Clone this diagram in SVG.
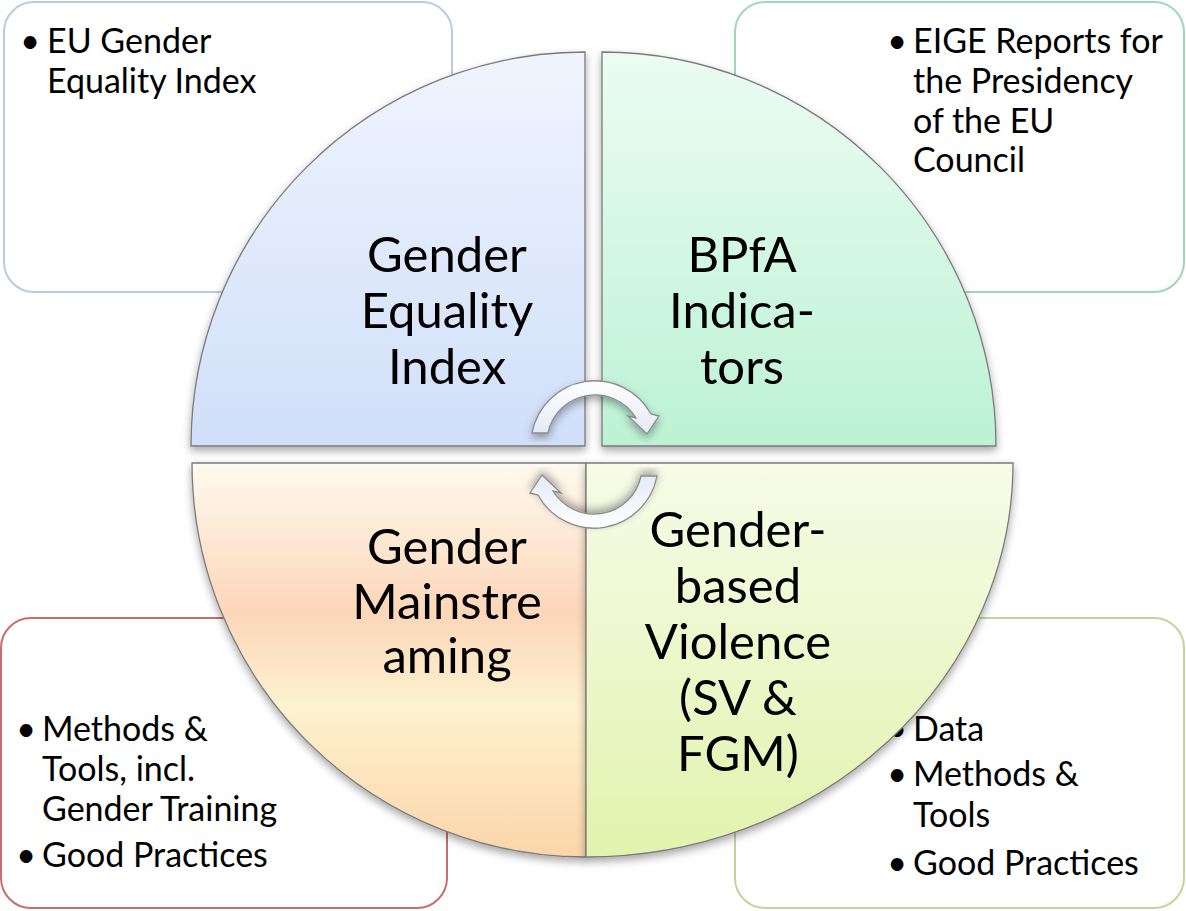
<svg xmlns="http://www.w3.org/2000/svg" width="1186" height="911" viewBox="0 0 1186 911">
<defs>
<style>
.box{fill:#ffffff;stroke-width:2}
.bt{font-family:Lato,"Open Sans","Liberation Sans",sans-serif;font-size:34px;fill:#000}
.ql{font-family:Lato,"Open Sans","Liberation Sans",sans-serif;font-size:49px;fill:#000;text-anchor:middle}
.quad{stroke:#7a7a7a;stroke-width:1.3}
.arr{fill:url(#gArr);stroke:#8a8a8a;stroke-width:1.3}
</style>
<linearGradient id="gTL" x1="0" y1="0" x2="0" y2="1"><stop offset="0" stop-color="#f0f4fe"/><stop offset="1" stop-color="#d0dff9"/></linearGradient>
<linearGradient id="gTR" x1="0" y1="0" x2="0" y2="1"><stop offset="0" stop-color="#ecfcf3"/><stop offset="1" stop-color="#bcf2d4"/></linearGradient>
<linearGradient id="gBL" x1="0" y1="0" x2="0" y2="1"><stop offset="0" stop-color="#fefaef"/><stop offset="0.38" stop-color="#fcd6b9"/><stop offset="0.62" stop-color="#fdf2cf"/><stop offset="1" stop-color="#fcd5a9"/></linearGradient>
<linearGradient id="gBR" x1="0" y1="0" x2="0" y2="1"><stop offset="0" stop-color="#f7fbe8"/><stop offset="1" stop-color="#e2f3ae"/></linearGradient>
<linearGradient id="gArr" x1="0" y1="0" x2="0" y2="1"><stop offset="0" stop-color="#ffffff"/><stop offset="1" stop-color="#e4eaf6"/></linearGradient>
<filter id="sh" x="-10%" y="-10%" width="120%" height="125%"><feDropShadow dx="0" dy="4" stdDeviation="4" flood-color="#000" flood-opacity="0.35"/></filter>
</defs>
<rect width="1186" height="911" fill="#ffffff"/>
<g id="box-tl"><rect class="box" x="4" y="2" width="448" height="290" rx="30" stroke="#b8cbe4"/>
<text class="bt" x="30" y="53" text-anchor="middle">•</text><text class="bt" x="47" y="53">EU Gender</text><text class="bt" x="47" y="93">Equality Index</text></g>
<g id="box-tr"><rect class="box" x="735" y="2" width="449" height="290" rx="30" stroke="#a0d8b6"/>
<text class="bt" x="897" y="53" text-anchor="middle">•</text><text class="bt" x="913" y="53">EIGE Reports for</text><text class="bt" x="913" y="93">the Presidency</text><text class="bt" x="913" y="133">of the EU</text><text class="bt" x="913" y="172">Council</text></g>
<g id="box-bl"><rect class="box" x="1" y="618" width="446" height="290" rx="30" stroke="#c86e6b"/>
<text class="bt" x="26" y="741" text-anchor="middle">•</text><text class="bt" x="42" y="741">Methods &amp;</text><text class="bt" x="42" y="781">Tools, incl.</text><text class="bt" x="42" y="821">Gender Training</text>
<text class="bt" x="26" y="867" text-anchor="middle">•</text><text class="bt" x="42" y="867">Good Practices</text></g>
<g id="box-br"><rect class="box" x="735" y="618" width="449" height="290" rx="30" stroke="#c2d59a"/>
<text class="bt" x="897" y="741" text-anchor="middle">•</text><text class="bt" x="913" y="741">Data</text>
<text class="bt" x="897" y="786" text-anchor="middle">•</text><text class="bt" x="913" y="786">Methods &amp;</text><text class="bt" x="913" y="827">Tools</text>
<text class="bt" x="897" y="875" text-anchor="middle">•</text><text class="bt" x="913" y="875">Good Practices</text></g>
<g id="q-tl"><path class="quad" filter="url(#sh)" fill="url(#gTL)" d="M585 446 L191 446 A394 394 0 0 1 585 52 Z"/>
<text class="ql" x="447" y="272">Gender</text><text class="ql" x="447" y="328">Equality</text><text class="ql" x="447" y="384">Index</text></g>
<g id="q-tr"><path class="quad" filter="url(#sh)" fill="url(#gTR)" d="M602 446 L602 52 A394 394 0 0 1 996 446 Z"/>
<text class="ql" x="742" y="272">BPfA</text><text class="ql" x="742" y="328">Indica-</text><text class="ql" x="742" y="384">tors</text></g>
<g id="q-bl"><path class="quad" filter="url(#sh)" fill="url(#gBL)" d="M586 463 L586 857 A394 394 0 0 1 192 463 Z"/>
<text class="ql" x="447" y="564">Gender</text><text class="ql" x="447" y="619">Mainstre</text><text class="ql" x="447" y="673">aming</text></g>
<g id="q-br"><path class="quad" filter="url(#sh)" fill="url(#gBR)" d="M586 463 L1013 463 A427 394 0 0 1 586 857 Z"/>
<text class="ql" x="738" y="547">Gender-</text><text class="ql" x="738" y="603">based</text><text class="ql" x="738" y="659">Violence</text><text class="ql" x="738" y="715">(SV &amp;</text><text class="ql" x="738" y="771">FGM)</text></g>
<g id="connectors">
<path class="arr" filter="url(#sh)" d="M532 433 A64 64 0 0 1 651 414 L659 416 L647 434 L628 416 L636 418 A48 48 0 0 0 548 433 Z"/>
<path class="arr" filter="url(#sh)" transform="rotate(180 594.5 454.5)" d="M532 433 A64 64 0 0 1 651 414 L659 416 L647 434 L628 416 L636 418 A48 48 0 0 0 548 433 Z"/>
</g>
</svg>
